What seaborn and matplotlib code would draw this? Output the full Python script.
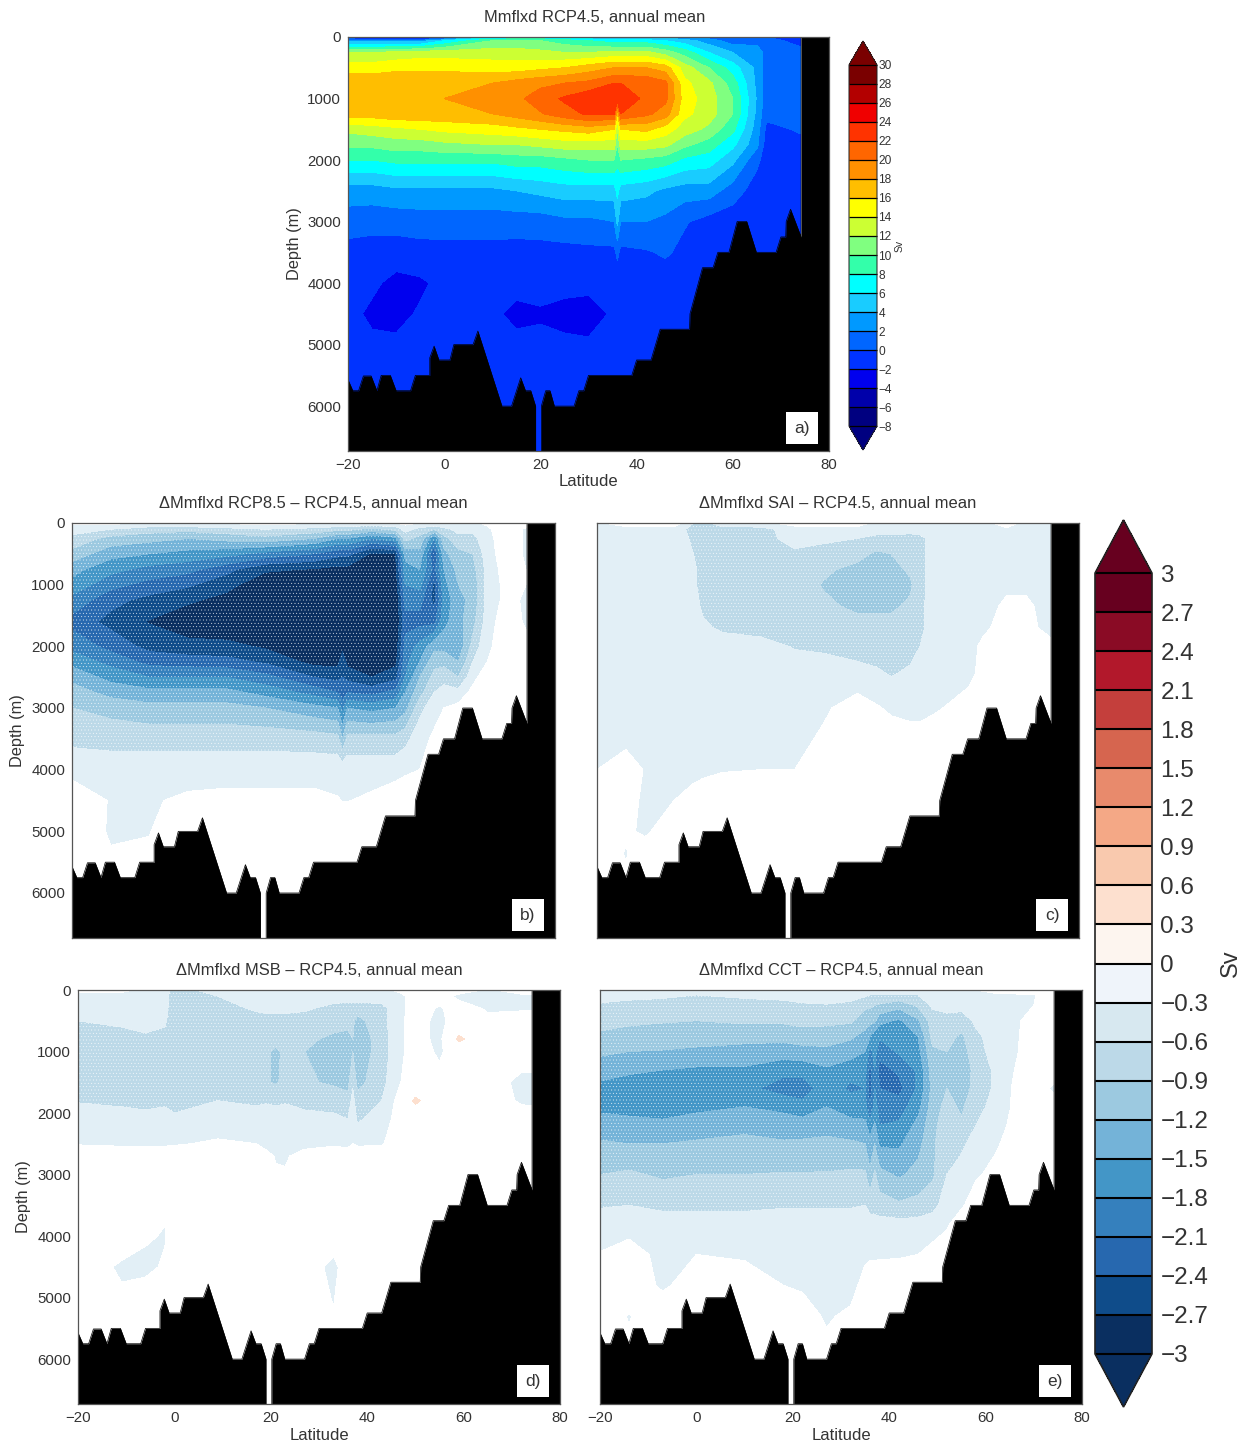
import matplotlib
matplotlib.use("Agg")
import matplotlib.pyplot as plt
from matplotlib.cm import ScalarMappable
from matplotlib.colors import BoundaryNorm, ListedColormap
import numpy as np
import seaborn as sns

# ---- bathymetry (lat, depth) ----
BATH_LAT = [-20, -19, -17.8, -16.8, -15.2, -14, -13.1, -11.2, -10, -7, -6, -3, -3, -2.1, -1.1, 1.2, 2, 6, 7, 12, 14, 15.9,
            16.9, 18, 19, 19, 20.2, 20.2, 21.1, 22, 22.9, 27, 28, 29, 30, 39, 40, 43, 44.9, 51, 51.1, 53.7, 55.9, 56.9,
            59.2, 60.9, 62.9, 64.9, 69, 70, 71, 71.1, 72, 74.2, 74.2, 80]
BATH_DEPTH = [5570, 5750, 5750, 5510, 5510, 5750, 5500, 5500, 5750, 5750, 5500, 5500, 5215, 5025, 5250, 5250, 5000, 5000,
              4780, 6000, 6000, 5540, 5750, 5750, 6000, 6750, 6750, 6000, 5750, 5750, 6000, 6000, 5750, 5750, 5500, 5500,
              5250, 5250, 4750, 4750, 4500, 3750, 3750, 3500, 3500, 3000, 3000, 3500, 3500, 3250, 3250, 3000, 2800, 3250,
              0, 0]

# ---- panel a ----
A_LAT = [-20, -15, -10, -5, 0, 10, 15, 20, 25, 30, 35.3, 36, 36.7, 42, 46, 50, 55, 60, 65, 67, 74]
A_DEPTH = [0, 60, 250, 500, 750, 1000, 1250, 1500, 1750, 2000, 2500, 3000, 3500, 4000, 4500, 5000, 6750]
A_VALUES = [
    [-3, -6, -6, -6, -3, 5, 6, 6, 5, 4, 3, 3, 3, 3, 3, 2, 1, 0, 1, 0, -1],
    [3, 3, 3, 3, 6, 10, 10, 10, 9, 8, 7, 7, 7, 7, 6, 5, 3, 1, 1, .5, -.5],
    [12, 12, 12.5, 13, 13, 13, 13, 12.5, 12, 12, 12.5, 12.5, 12.5, 12.5, 11, 9, 6, 4, 3.5, 1, .5],
    [15, 15, 15.5, 15.5, 15.5, 15, 15, 15.5, 16, 17, 18, 18, 18, 18, 17, 13, 10, 7, 3.5, 1, .5],
    [17.5, 17.5, 17.5, 17.5, 17.5, 18, 18.8, 19.5, 20, 20.5, 22, 22, 22, 21.5, 20.5, 14.5, 12.5, 9, 3.5, 1, .5],
    [18, 18, 18, 18, 18, 18.8, 19.5, 21, 22.3, 23.5, 23.5, 23.5, 23.5, 21.5, 20.5, 15, 13, 10, 3.8, .8, .5],
    [17, 17, 17.5, 17.5, 17.5, 18, 18.8, 19.8, 21.2, 22.3, 22.3, 16, 22, 20.5, 19, 14.5, 13, 10, 3.5, .5, .5],
    [12.5, 13, 13.5, 14, 14.5, 15, 15.5, 16, 16.5, 17, 16, 12, 16, 16.5, 15, 13, 11.5, 8.5, 3, -.5, .2],
    [10.5, 10.5, 11, 11, 11.5, 12, 12, 12.5, 13, 13, 13, 10, 13, 13, 12.5, 10.5, 9, 6.5, 2.5, -1, -.5],
    [8, 8, 8.5, 8.5, 8.5, 8.5, 9, 9, 9.5, 10, 10, 8.5, 10, 9.5, 9, 7.5, 7, 4.5, .5, -1, -1],
    [3, 3, 3.5, 3.5, 3.5, 3.5, 4, 4.5, 5, 5, 5, 6.5, 5, 4.5, 3.5, 3, 3, 1, -1, -1.2, -1.2],
    [1, .8, .8, 1, 1, 1, 1, 1, 1.5, 1.5, 2, 4.5, 2, 2, 1.5, .2, -.8, -1.2, -1.2, -1.2, -1.2],
    [-.8, -1, -1, -.8, -.7, -.7, -.8, -.7, -.7, -.5, -.5, .5, -.5, -.2, .3, -.6, -1, -1.2, -1.2, -1.2, -1.2],
    [-1.2, -1.6, -2.6, -2.3, -1.5, -1.4, -1.5, -1.4, -1.5, -1.6, -1.6, -1.4, -1.6, -1.3, -1.2, -1.2, -1.2, -1.2, -1.2, -1.2, -1.2],
    [-1.4, -2.4, -2.5, -1.8, -1.5, -1.7, -2.4, -2.2, -2.5, -2.6, -1.8, -1.6, -1.6, -1.3, -1.2, -1.2, -1.2, -1.2, -1.2, -1.2, -1.2],
    [-1.3, -1.6, -1.7, -1.5, -1.4, -1.5, -1.6, -1.6, -1.7, -1.8, -1.5, -1.4, -1.4, -1.3, -1.2, -1.2, -1.2, -1.2, -1.2, -1.2, -1.2],
    [-1.2, -1.2, -1.2, -1.2, -1.2, -1.2, -1.2, -1.2, -1.2, -1.2, -1.2, -1.2, -1.2, -1.2, -1.2, -1.2, -1.2, -1.2, -1.2, -1.2, -1.2],
]

# ---- panel b ----
B_LAT = [-20, -12, -4, 4, 12, 20, 30, 35, 36, 37, 42, 47, 49, 52, 55, 57, 60, 63, 66, 70, 74]
B_DEPTH = [0, 100, 250, 500, 750, 1000, 1250, 1600, 2000, 2250, 2500, 2750, 3000, 3500, 4000, 4500, 5000, 6750]
B_VALUES = [
    [-.25, -.2, -.35, -.3, -.25, -.2, -.25, -.3, -.3, -.3, -.35, -.3, -.2, -.3, -.3, -.3, -.3, -.35, -.25, -.1, -.1],
    [-.45, -.6, -.75, -.8, -.7, -.6, -.7, -.8, -.8, -.8, -1, -.8, -.5, -.7, -.9, -.7, -.5, -.5, -.35, -.1, -.35],
    [-.7, -1, -1.1, -1.2, -1.1, -1, -1.2, -1.5, -1.5, -1.5, -1.8, -1.6, -.8, -1, -1.8, -1, -.7, -.7, -.4, -.1, -.35],
    [-1, -1.4, -1.5, -1.6, -1.7, -1.9, -2.1, -2.3, -2.3, -2.3, -2.75, -2.7, -1.4, -1.3, -2.4, -1.3, -1, -.9, -.45, -.1, -.35],
    [-1.4, -1.7, -1.9, -2, -2.3, -2.65, -2.72, -2.8, -2.8, -2.8, -2.9, -2.8, -1.6, -1.5, -2.2, -1.5, -1.1, -1, -.5, -.15, -.3],
    [-1.6, -2, -2.2, -2.35, -2.6, -2.9, -3, -3, -3, -3, -3.1, -2.9, -1.8, -1.7, -2.5, -1.6, -1.2, -1.1, -.5, -.2, -.3],
    [-1.9, -2.3, -2.5, -2.65, -2.8, -3, -3.1, -3.1, -3, -3.1, -3.1, -3, -2, -2, -2.5, -1.7, -1.3, -1.1, -.5, -.2, -.35],
    [-2.2, -2.5, -2.72, -2.9, -3, -3, -3.1, -3.1, -3, -3.1, -3.1, -3, -2.2, -2.2, -2.2, -1.6, -1.3, -1, -.45, -.1, -.35],
    [-1.9, -2.2, -2.5, -2.6, -2.6, -2.75, -3, -3, -2.8, -3, -3.1, -2.9, -2, -1.7, -1.3, -1.3, -1.4, -.8, -.35, -.15, -.2],
    [-1.6, -1.9, -2.2, -2.25, -2.3, -2.45, -2.8, -2.8, -2.5, -2.8, -3, -2.8, -1.9, -1.5, -1, -1, -1.2, -.6, -.3, -.05, -.05],
    [-1.3, -1.6, -1.8, -1.8, -1.8, -2, -2.4, -2.5, -2.4, -2.5, -2.7, -2.5, -1.8, -1.2, -.8, -.7, -.9, -.4, -.1, -.05, -.05],
    [-1.05, -1.3, -1.4, -1.4, -1.4, -1.6, -1.9, -2.1, -2.3, -2.1, -2.2, -2, -1.5, -1, -.6, -.5, -.5, -.2, -.05, -.05, -.05],
    [-.9, -1, -1.1, -1.1, -1.1, -1.2, -1.4, -1.5, -1.9, -1.5, -1.6, -1.5, -1.3, -.7, -.4, -.3, -.2, -.1, -.05, -.05, -.05],
    [-.68, -.72, -.72, -.72, -.72, -.72, -.75, -.8, -1.2, -.8, -.8, -.8, -.7, -.4, -.25, -.2, -.1, -.1, -.05, -.05, -.05],
    [-.4, -.42, -.42, -.42, -.42, -.42, -.42, -.42, -.42, -.42, -.42, -.42, -.35, -.3, -.2, -.1, -.1, -.1, -.05, -.05, -.05],
    [-.1, -.32, -.33, -.25, -.22, -.22, -.22, -.28, -.31, -.31, -.25, -.1, -.1, -.1, -.1, -.1, -.1, -.1, -.05, -.05, -.05],
    [-.1, -.33, -.31, -.1, -.1, -.1, -.1, -.1, -.1, -.1, -.1, -.1, -.1, -.1, -.1, -.1, -.1, -.1, -.05, -.05, -.05],
    [-.1, -.1, -.1, -.1, -.1, -.1, -.1, -.1, -.1, -.1, -.1, -.1, -.1, -.1, -.1, -.1, -.1, -.1, -.05, -.05, -.05],
]

# ---- panel c ----
C_LAT = [-20, -14, -10, -4, 0, 2, 6, 14, 21, 27, 34, 38, 41, 45, 47, 50, 57, 60, 65, 69, 74]
C_DEPTH = [0, 100, 250, 500, 750, 1000, 1350, 1700, 2000, 2450, 3000, 3500, 4000, 4500, 5000, 5350, 6750]
C_VALUES = [
    [-.35, -.1, -.1, -.1, -.6, -.7, -.4, -.4, -.15, -.1, -.1, -.4, -.4, -.4, -.4, -.4, -.4, -.4, -.15, -.4, -.4],
    [-.45, -.45, -.45, -.45, -.7, -.75, -.75, -.7, -.45, -.45, -.45, -.45, -.45, -.45, -.45, -.45, -.45, -.45, -.35, -.45, -.45],
    [-.45, -.45, -.45, -.45, -.65, -.75, -.75, -.7, -.5, -.55, -.6, -.7, -.7, -.75, -.7, -.45, -.4, -.4, -.4, -.45, -.45],
    [-.45, -.45, -.45, -.45, -.6, -.75, -.75, -.72, -.65, -.7, -.8, -.95, -.9, -.8, -.7, -.45, -.4, -.4, -.4, -.4, -.4],
    [-.45, -.45, -.45, -.45, -.55, -.7, -.75, -.75, -.75, -.85, -.98, -1.05, -1, -.85, -.7, -.45, -.4, -.4, -.4, -.4, -.4],
    [-.45, -.45, -.45, -.45, -.55, -.7, -.75, -.75, -.75, -.92, -1, -1.05, -1.05, -.95, -.7, -.45, -.4, -.4, -.35, -.35, -.4],
    [-.45, -.45, -.45, -.45, -.5, -.65, -.75, -.75, -.75, -.85, -.95, -.95, -.95, -.85, -.7, -.4, -.4, -.4, -.25, -.25, -.4],
    [-.45, -.45, -.45, -.45, -.45, -.55, -.65, -.7, -.75, -.75, -.8, -.8, -.8, -.75, -.7, -.4, -.4, -.35, -.2, -.2, -.4],
    [-.4, -.4, -.4, -.4, -.4, -.45, -.45, -.5, -.62, -.65, -.72, -.75, -.75, -.7, -.6, -.4, -.4, -.25, -.15, -.15, -.2],
    [-.4, -.4, -.4, -.4, -.4, -.4, -.4, -.4, -.45, -.45, -.5, -.55, -.62, -.55, -.45, -.4, -.4, -.2, -.1, -.1, -.1],
    [-.4, -.4, -.4, -.4, -.4, -.4, -.4, -.4, -.4, -.35, -.15, -.27, -.35, -.38, -.38, -.35, -.15, -.1, -.1, -.1, -.1],
    [-.4, -.38, -.38, -.4, -.4, -.4, -.4, -.35, -.4, -.25, -.1, -.1, -.15, -.2, -.2, -.1, -.1, -.1, -.1, -.1, -.1],
    [-.3, -.15, -.32, -.38, -.38, -.38, -.32, -.3, -.3, -.1, -.1, -.1, -.1, -.1, -.1, -.1, -.1, -.1, -.1, -.1, -.1],
    [-.1, -.1, -.4, -.3, -.2, -.1, -.1, -.1, -.1, -.1, -.1, -.1, -.1, -.1, -.1, -.1, -.1, -.1, -.1, -.1, -.1],
    [-.1, -.25, -.35, -.1, -.1, -.1, -.1, -.1, -.1, -.1, -.1, -.1, -.1, -.1, -.1, -.1, -.1, -.1, -.1, -.1, -.1],
    [-.1, -.32, -.15, -.1, -.1, -.1, -.1, -.1, -.1, -.1, -.1, -.1, -.1, -.1, -.1, -.1, -.1, -.1, -.1, -.1, -.1],
    [-.1, -.1, -.1, -.1, -.1, -.1, -.1, -.1, -.1, -.1, -.1, -.1, -.1, -.1, -.1, -.1, -.1, -.1, -.1, -.1, -.1],
]

# ---- panel d ----
D_LAT = [-20, -11, -6, -2, 0, 9, 17, 19, 21, 23, 27, 33, 36, 37, 38, 43, 47, 50, 55, 59, 65, 72, 74]
D_DEPTH = [0, 100, 300, 500, 800, 1000, 1500, 1800, 2100, 2500, 2700, 4000, 4500, 5000, 6750]
D_VALUES = [
    [-.2, -.2, -.4, -.45, -.75, -.45, -.4, -.4, -.4, -.4, -.4, -.4, -.4, -.4, -.4, -.4, -.2, -.1, -.1, -.1, -.35, -.1, -.1],
    [-.45, -.45, -.45, -.5, -.75, -.6, -.45, -.45, -.45, -.45, -.45, -.45, -.45, -.45, -.45, -.45, -.4, -.1, -.1, -.4, -.4, -.4, -.4],
    [-.45, -.45, -.45, -.5, -.8, -.75, -.55, -.5, -.5, -.5, -.55, -.7, -.75, -.75, -.75, -.7, -.4, -.1, -.35, -.1, -.35, -.35, -.35],
    [-.6, -.55, -.5, -.55, -.8, -.75, -.75, -.75, -.75, -.75, -.75, -.8, -.85, -.85, -1, -.7, -.35, -.15, -.4, -.1, -.2, -.1, -.1],
    [-.7, -.7, -.65, -.7, -.8, -.75, -.75, -.8, -.8, -.8, -.85, -.95, -.95, -.9, -1.1, -.75, -.35, -.15, -.4, .4, -.1, -.1, -.1],
    [-.7, -.7, -.7, -.7, -.75, -.75, -.75, -.85, -.95, -.85, -.9, -1.05, -1.05, -.9, -1.1, -.75, -.35, -.15, -.35, -.1, -.1, -.1, -.1],
    [-.7, -.7, -.7, -.7, -.75, -.75, -.75, -.85, -.95, -.8, -.85, -.95, -1, -.65, -1, -.7, -.3, -.15, -.2, -.1, -.1, -.4, -.4],
    [-.62, -.65, -.65, -.65, -.7, -.6, -.62, -.62, -.62, -.62, -.65, -.7, -.8, -.5, -.8, -.6, -.15, .4, -.1, -.1, -.1, -.35, -.38],
    [-.45, -.5, -.55, -.5, -.55, -.5, -.55, -.5, -.55, -.5, -.55, -.55, -.6, -.45, -.65, -.45, -.15, -.1, -.1, -.1, -.1, -.1, -.1],
    [-.32, -.35, -.35, -.35, -.33, -.25, -.3, -.4, -.4, -.4, -.38, -.35, -.4, -.3, -.35, -.33, -.1, -.1, -.1, -.1, -.1, -.1, -.1],
    [-.1, -.1, -.1, -.1, -.1, -.1, -.1, -.2, -.32, -.33, -.2, -.1, -.1, -.1, -.1, -.1, -.1, -.1, -.1, -.1, -.1, -.1, -.1],
    [-.1, -.1, -.25, -.33, -.1, -.1, -.1, -.1, -.1, -.1, -.1, -.1, -.1, -.1, -.1, -.1, -.1, -.1, -.1, -.1, -.1, -.1, -.1],
    [-.1, -.35, -.4, -.25, -.1, -.1, -.1, -.1, -.1, -.1, -.1, -.4, -.1, -.1, -.1, -.1, -.1, -.1, -.1, -.1, -.1, -.1, -.1],
    [-.1, -.25, -.1, -.1, -.1, -.1, -.1, -.1, -.1, -.1, -.1, -.32, -.1, -.1, -.1, -.1, -.1, -.1, -.1, -.1, -.1, -.1, -.1],
    [-.1, -.1, -.1, -.1, -.1, -.1, -.1, -.1, -.1, -.1, -.1, -.1, -.1, -.1, -.1, -.1, -.1, -.1, -.1, -.1, -.1, -.1, -.1],
]

# ---- panel e ----
E_LAT = [-20, -14, -7, 0, 10, 18, 22, 27, 32, 35, 36, 37, 38, 42, 46, 49, 52, 55, 58, 62, 66, 70, 74]
E_DEPTH = [0, 80, 250, 500, 750, 1000, 1300, 1600, 1900, 2200, 2500, 3000, 3500, 3800, 4300, 4800, 5300, 6750]
E_VALUES = [
    [-.3, -.35, -.4, -.6, -.3, -.3, -.3, -.3, -.3, -.3, -.3, -.3, -.3, -.3, -.3, -.3, -.3, -.3, -.3, -.2, -.1, -.1, -.1],
    [-.45, -.5, -.55, -.6, -.55, -.5, -.45, -.45, -.45, -.55, -.6, -.6, -.6, -.65, -.6, -.45, -.45, -.4, -.4, -.35, -.35, -.32, -.15],
    [-.65, -.7, -.7, -.72, -.7, -.7, -.65, -.62, -.7, -.85, -.85, -.9, -.95, -1.1, -.85, -.55, -.5, -.5, -.45, -.4, -.35, -.3, -.2],
    [-.8, -.85, -.88, -.9, -.85, -.85, -.8, -.8, -.85, -1.05, -1.1, -1.15, -1.4, -1.55, -1.25, -.75, -.7, -.75, -.55, -.45, -.35, -.2, -.1],
    [-.95, -1, -1.02, -1.08, -1.1, -1.1, -1.05, -1.1, -1.15, -1.3, -1.5, -1.7, -1.75, -1.7, -1.5, -.8, -.8, -.95, -.65, -.5, -.35, -.15, -.1],
    [-1.15, -1.2, -1.22, -1.25, -1.3, -1.35, -1.3, -1.25, -1.35, -1.5, -1.9, -1.7, -2, -1.75, -1.6, -.95, -.9, -1.05, -.7, -.5, -.35, -.1, -.1],
    [-1.35, -1.45, -1.5, -1.55, -1.55, -1.7, -1.7, -1.55, -1.7, -1.7, -2.2, -1.8, -2.2, -2.05, -1.75, -1.05, -1, -1.1, -.8, -.55, -.3, -.1, -.1],
    [-1.6, -1.65, -1.65, -1.68, -1.7, -1.95, -1.95, -1.65, -1.85, -1.8, -2.3, -1.8, -2.1, -2.2, -1.75, -1.1, -.9, -1.05, -.8, -.55, -.25, -.15, -.35],
    [-1.55, -1.6, -1.6, -1.55, -1.5, -1.55, -1.7, -1.5, -1.65, -1.7, -2.1, -1.7, -1.9, -1.95, -1.6, -1.05, -.8, -.95, -.7, -.5, -.25, -.1, -.1],
    [-1.4, -1.4, -1.45, -1.4, -1.3, -1.4, -1.35, -1.35, -1.4, -1.4, -1.7, -1.45, -1.8, -1.75, -1.4, -1, -.7, -.85, -.6, -.45, -.2, -.1, -.1],
    [-1.15, -1.2, -1.2, -1.15, -1.1, -1.15, -1.15, -1.1, -1.15, -1.2, -1.4, -1.2, -1.55, -1.55, -1.3, -.95, -.7, -.65, -.5, -.35, -.15, -.1, -.1],
    [-.9, -.85, -.95, -.9, -.9, -.88, -.88, -.88, -.85, -.85, -1.15, -.85, -1.1, -1.25, -1.1, -.95, -.6, -.5, -.35, -.2, -.1, -.1, -.1],
    [-.62, -.6, -.65, -.65, -.65, -.62, -.62, -.62, -.62, -.6, -.7, -.7, -.75, -.85, -.8, -.7, -.45, -.35, -.1, -.1, -.1, -.1, -.1],
    [-.5, -.45, -.5, -.5, -.5, -.5, -.5, -.5, -.5, -.5, -.5, -.5, -.5, -.5, -.5, -.45, -.35, -.1, -.1, -.1, -.1, -.1, -.1],
    [-.28, -.15, -.4, -.3, -.35, -.4, -.42, -.42, -.42, -.35, -.35, -.35, -.34, -.33, -.3, -.2, -.1, -.1, -.1, -.1, -.1, -.1, -.1],
    [-.1, -.1, -.35, -.15, -.1, -.3, -.33, -.4, -.4, -.2, -.1, -.1, -.1, -.1, -.1, -.1, -.1, -.1, -.1, -.1, -.1, -.1, -.1],
    [-.1, -.32, -.1, -.1, -.1, -.25, -.2, -.33, -.25, -.1, -.1, -.1, -.1, -.1, -.1, -.1, -.1, -.1, -.1, -.1, -.1, -.1, -.1],
    [-.1, -.1, -.1, -.1, -.1, -.1, -.1, -.1, -.1, -.1, -.1, -.1, -.1, -.1, -.1, -.1, -.1, -.1, -.1, -.1, -.1, -.1, -.1],
]

# ---- scales, labels ----
JET_LEVELS = [-8, -6, -4, -2, 0, 2, 4, 6, 8, 10, 12, 14, 16, 18, 20, 22, 24, 26, 28, 30]
JET_COLORS = ["#000080", "#0000aa", "#0000ee", "#0033ff", "#0066ff", "#0099ff", "#19ccff", "#00ffff", "#33ffaa",
              "#80ff80", "#ccff33", "#ffff00", "#ffbe00", "#ff9000", "#ff6600", "#ff3300", "#f00000", "#b30000", "#7a0000"]
DIFF_LEVELS = [-3, -2.7, -2.4, -2.1, -1.8, -1.5, -1.2, -.9, -.6, -.3, 0, .3, .6, .9, 1.2, 1.5, 1.8, 2.1, 2.4, 2.7, 3]
DIFF_LABELS = ["−3", "−2.7", "−2.4", "−2.1", "−1.8", "−1.5", "−1.2", "−0.9", "−0.6", "−0.3", "0",
               "0.3", "0.6", "0.9", "1.2", "1.5", "1.8", "2.1", "2.4", "2.7", "3"]
DIFF_BAR = ["#0a2f60", "#0f4c8a", "#2768af", "#3580bd", "#4396c7", "#74b3d8", "#9cc9e0", "#bcd9e8", "#d7e8f0", "#eff4fa",
            "#fdf5ef", "#fde0cf", "#f9c9ae", "#f4a886", "#e88a6c", "#d6654f", "#c43f3c", "#b2182b", "#8a0b25", "#67001f"]
DIFF_PANEL = DIFF_BAR[:8] + ["#e2eff6", "#ffffff", "#ffffff"] + DIFF_BAR[11:]
X_TICKS = [-20, 0, 20, 40, 60, 80]
X_LABELS = ["−20", "0", "20", "40", "60", "80"]
Y_TICKS = [0, 1000, 2000, 3000, 4000, 5000, 6000]

W, H = 1251, 1443
TEXT = "#333333"
sns.set_theme(style="ticks")
plt.rcParams["font.family"] = ["Liberation Sans", "DejaVu Sans"]
plt.rcParams["hatch.color"] = "white"
plt.rcParams["hatch.linewidth"] = 0.2
fig = plt.figure(figsize=(W / 100, H / 100), dpi=100, facecolor="white")


def px_axes(left, top, right, bottom):
    return fig.add_axes([left / W, 1 - bottom / H, (right - left) / W, (bottom - top) / H])


def make_map(colors):
    pal = sns.color_palette(colors)
    cmap = ListedColormap(pal)
    cmap.set_under(pal[0])
    cmap.set_over(pal[-1])
    return cmap


def panel(rect, lat, depth, values, colors, levels, title, tag, xlab, ylab, stipple, title_x=0.5):
    ax = px_axes(*rect)
    cmap = make_map(colors)
    norm = BoundaryNorm(levels, len(colors))
    z = np.array(values, dtype=float)
    ax.contourf(lat, depth, z, levels=levels, cmap=cmap, norm=norm, extend="both", zorder=1)
    if stipple:
        ax.contourf(lat, depth, z, levels=[-99, -0.6], colors="none", hatches=["....."], zorder=2)
    ax.fill_between(BATH_LAT, BATH_DEPTH, 6750, color="black", lw=0, zorder=3)
    sns.lineplot(x=BATH_LAT, y=BATH_DEPTH, sort=False, estimator=None, color="black", lw=0.5, ax=ax, zorder=3)
    ax.set_xlim(-20, 80)
    ax.set_ylim(6730, 0)
    ax.set_xticks(X_TICKS)
    ax.set_yticks(Y_TICKS)
    ax.set_xticklabels(X_LABELS if xlab else [])
    ax.set_yticklabels([str(v) for v in Y_TICKS] if ylab else [])
    ax.tick_params(direction="in", top=True, right=True, length=3.5, width=0.7, color="#444444",
                   labelsize=10.8, labelcolor=TEXT, pad=5)
    for s in ax.spines.values():
        s.set_linewidth(0.9)
        s.set_color("#555555")
        s.set_zorder(6)
    ax.set_title(title, fontsize=11.9, color=TEXT, pad=11, x=title_x)
    ax.set_xlabel("Latitude" if xlab else "", fontsize=12, color=TEXT, va="center")
    ax.xaxis.set_label_coords(0.5, -31 / 414)
    ax.set_ylabel("Depth (m)" if ylab else "", fontsize=11.8, color=TEXT, va="center")
    ax.yaxis.set_label_coords(-54 / 482, 0.5)
    ax.text(0.944, 0.055, tag, transform=ax.transAxes, ha="center", va="center", fontsize=12.5, color=TEXT, zorder=7,
            bbox=dict(boxstyle="square,pad=0.5", fc="white", ec="none"))
    return ax


panel((348, 37, 829, 451), A_LAT, A_DEPTH, A_VALUES, JET_COLORS, JET_LEVELS,
      "Mmflxd RCP4.5, annual mean", "a)", True, True, False, title_x=0.512)
panel((72, 523, 555, 938), B_LAT, B_DEPTH, B_VALUES, DIFF_PANEL, DIFF_LEVELS,
      "ΔMmflxd RCP8.5 – RCP4.5, annual mean", "b)", False, True, True)
panel((597, 523, 1079, 938), C_LAT, C_DEPTH, C_VALUES, DIFF_PANEL, DIFF_LEVELS,
      "ΔMmflxd SAI – RCP4.5, annual mean", "c)", False, False, True)
panel((78, 990, 560, 1404), D_LAT, D_DEPTH, D_VALUES, DIFF_PANEL, DIFF_LEVELS,
      "ΔMmflxd MSB – RCP4.5, annual mean", "d)", True, True, True)
panel((600, 990, 1082, 1404), E_LAT, E_DEPTH, E_VALUES, DIFF_PANEL, DIFF_LEVELS,
      "ΔMmflxd CCT – RCP4.5, annual mean", "e)", True, False, True)


def colorbar(rect, colors, levels, labels, frac, size, sv_size, sv_pad, edge):
    cax = px_axes(*rect)
    cmap = make_map(colors)
    sm = ScalarMappable(norm=BoundaryNorm(levels, len(colors)), cmap=cmap)
    cb = fig.colorbar(sm, cax=cax, extend="both", extendfrac=frac, spacing="uniform", ticks=levels, drawedges=True)
    cb.ax.set_yticklabels(labels)
    cb.ax.tick_params(length=0, labelsize=size, labelcolor=TEXT, pad=sv_pad[0])
    cb.dividers.set_color("black")
    cb.dividers.set_linewidth(edge)
    cb.outline.set_edgecolor("#222222")
    cb.outline.set_linewidth(edge * 0.8)
    cb.set_label("Sv", fontsize=sv_size, color=TEXT, labelpad=sv_pad[1])


colorbar((849, 41, 877, 450), JET_COLORS, JET_LEVELS, [str(v).replace("-", "−") for v in JET_LEVELS],
         0.066, 8.6, 7.5, (1, 2), 0.9)
colorbar((1095, 520, 1152, 1407), DIFF_BAR, DIFF_LEVELS, DIFF_LABELS, 0.068, 17.5, 17, (6, 8), 1.5)

fig.savefig("out.png", dpi=100, facecolor="white")
